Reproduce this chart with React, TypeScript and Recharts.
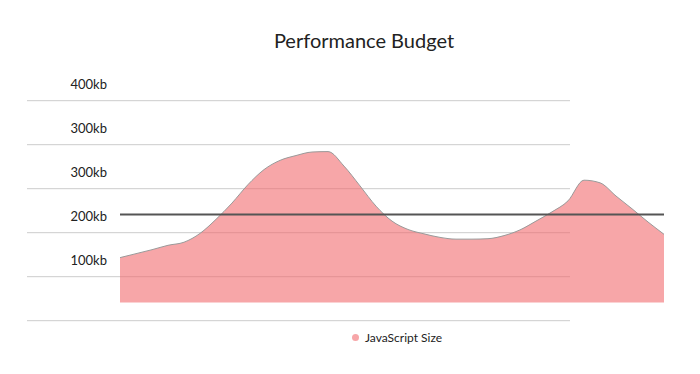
import { AreaChart, Area, XAxis, YAxis, ReferenceLine } from "recharts"

// JavaScript bundle size samples (kb)
const jsSize = [
  102, 111, 120, 130, 137, 157, 189, 226, 268, 302, 323, 334,
  342, 343, 310, 265, 219, 185, 166, 156, 148, 144, 144, 145,
  152, 165, 185, 206, 231, 278, 272, 242, 213, 183, 155,
]
const budget = 200
const yTicks = [0, 100, 200, 300, 400, 500]
const yTickLabels = ["", "100kb", "200kb", "300kb", "300kb", "400kb"]

const data = jsSize.map((v, i) => ({ idx: i, size: v }))

const W = 700
const H = 374
const FONT = "Lato, 'Open Sans', sans-serif"
const PINK = "#f7a6a8"

// label sits ~17px above its grid line, right-aligned at x=107
function gridLabel(text: string) {
  return function GridLabel({ viewBox }: { viewBox?: { y?: number } }) {
    if (!text) return null
    return (
      <text x={107} y={(viewBox?.y ?? 0) - 17} textAnchor="end" dominantBaseline="central"
        fontSize={13} fontFamily={FONT} fill="#222">
        {text}
      </text>
    )
  }
}

export default function App() {
  return (
    <div style={{ position: "absolute", left: 0, top: 0, width: W, height: H, background: "#fff", overflow: "hidden" }}>
      <div style={{ position: "absolute", left: 0, top: 28, width: 728, textAlign: "center", fontFamily: FONT, fontSize: 20, color: "#222", lineHeight: "normal" }}>
        Performance Budget
      </div>

      {/* grid + labels (bottom layer) */}
      <div style={{ position: "absolute", left: 0, top: 0 }}>
        <AreaChart width={W} height={H} data={data} margin={{ top: 100.7, right: 130, left: 27, bottom: 53.3 }}>
          <XAxis dataKey="idx" hide />
          <YAxis hide domain={[0, 500]} />
          {yTicks.map((v, i) => (
            <ReferenceLine key={v} y={v} stroke="#cccccc" strokeWidth={1}
              ifOverflow="extendDomain" label={gridLabel(yTickLabels[i])} />
          ))}
        </AreaChart>
      </div>

      {/* js size area, own frame: baseline ~302px */}
      <div style={{ position: "absolute", left: 0, top: 0 }}>
        <AreaChart width={W} height={H} data={data} margin={{ top: 82.5, right: 36, left: 120, bottom: 71.5 }}>
          <XAxis dataKey="idx" hide />
          <YAxis hide domain={[0, 500]} />
          <Area
            type="monotone" dataKey="size" name="JavaScript Size"
            stroke="#9a9a9a" strokeWidth={1}
            fill="#f26b6e" fillOpacity={0.6} baseValue={0}
            dot={false} activeDot={false} isAnimationActive={false}
          />
          <ReferenceLine y={budget} stroke="#555" strokeWidth={2} />
        </AreaChart>
      </div>

      <div style={{ position: "absolute", left: 352, top: 330, display: "flex", alignItems: "center", fontFamily: FONT, fontSize: 12, color: "#222", whiteSpace: "nowrap" }}>
        <span style={{ width: 7, height: 7, borderRadius: "50%", background: PINK, marginRight: 6, display: "inline-block" }} />
        <span>JavaScript Size</span>
      </div>
    </div>
  )
}
